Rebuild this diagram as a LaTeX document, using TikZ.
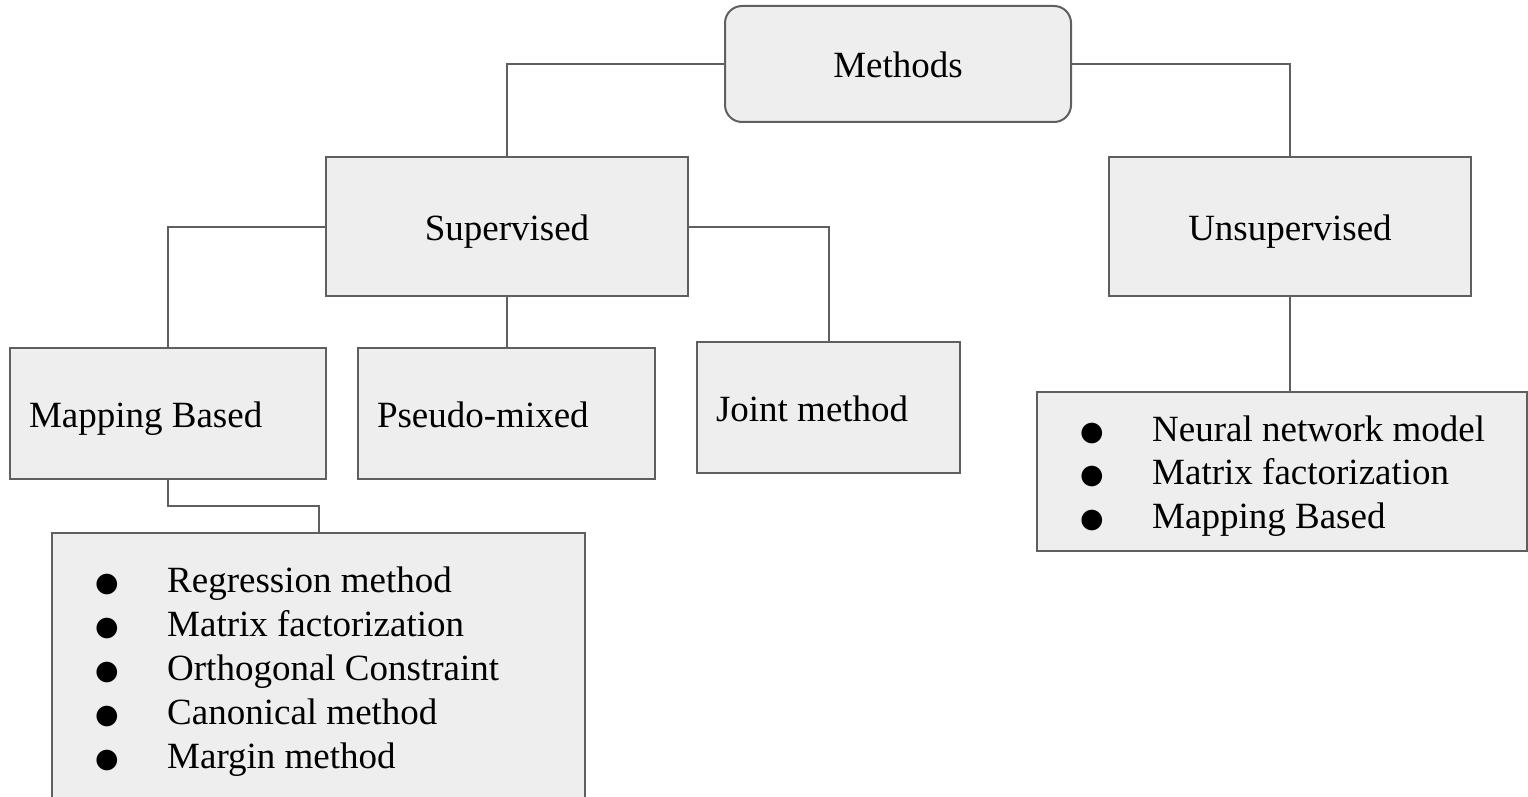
\documentclass[tikz,border=0pt]{standalone}
\usepackage{fontspec}
\setmainfont{Liberation Serif}
\newfontfamily\bulletfont{DejaVu Sans}
\usetikzlibrary{calc}
\definecolor{boxfill}{HTML}{EEEEEE}
\definecolor{edgecol}{HTML}{5F5F5F}
\begin{document}
\begin{tikzpicture}[x=1pt,y=-1pt,
  box/.style={draw=edgecol, fill=boxfill, line width=2pt, inner sep=0pt,
    text height=27pt, text depth=0pt, font=\fontsize{37}{44}\selectfont},
  lbox/.style={box, inner xsep=19pt},
  panel/.style={draw=edgecol, fill=boxfill, line width=2pt, inner sep=0pt},
  conn/.style={draw=edgecol, line width=2pt},
  item/.style={anchor=base west, inner sep=0pt, font=\fontsize{37}{44}\selectfont},
  dot/.style={anchor=base, inner sep=0pt, text height=14pt, text depth=0pt, font=\bulletfont\fontsize{27}{32}\selectfont}]
\useasboundingbox (0,0) rectangle (1528,797);
\clip (0,0) rectangle (1528,797);
% boxes
\node[box, rounded corners=17pt, minimum width=346pt, minimum height=116pt] (methods) at (898,64) {Methods};
\node[box, minimum width=362pt, minimum height=139pt] (sup) at (507,226.5) {Supervised};
\node[box, minimum width=362pt, minimum height=139pt] (unsup) at (1290,226.5) {Unsupervised};
\node[lbox, minimum width=316pt, minimum height=131pt] (mapb) at (168,413.5) {\makebox[278pt][l]{Mapping Based}};
\node[lbox, minimum width=297pt, minimum height=131pt] (pseudo) at (506.5,413.5) {\makebox[259pt][l]{Pseudo-mixed}};
\node[lbox, minimum width=263pt, minimum height=131pt] (joint) at (828.5,407.5) {\makebox[225pt][l]{Joint method}};
\node[panel, minimum width=490pt, minimum height=159pt] (ulist) at (1282,471.5) {};
\node[panel, minimum width=533pt, minimum height=300pt] (mlist) at (318.5,683) {};
% connectors
\draw[conn] (methods.west) -| (sup.north);
\draw[conn] (methods.east) -| (unsup.north);
\draw[conn] (sup.west) -| (mapb.north);
\draw[conn] (sup.south) -- (sup.south |- pseudo.north);
\draw[conn] (sup.east) -| (joint.north);
\draw[conn] (unsup.south) -- (unsup.south |- ulist.north);
\draw[conn] (mapb.south) -- ++(0,26) -| (mlist.north);
% list items
\foreach \t [count=\i] in {Regression method, Matrix factorization, Orthogonal Constraint, Canonical method, Margin method} {
  \node[item] (mi\i) at (167,{592+44*(\i-1)}) {\t};
  \node[dot] (md\i) at (107,{591+44*(\i-1)}) {●};
}
\foreach \t [count=\i] in {Neural network model, Matrix factorization, Mapping Based} {
  \node[item] (ui\i) at (1152,{441+43.5*(\i-1)}) {\t};
  \node[dot] (ud\i) at (1092,{440+43.5*(\i-1)}) {●};
}
\end{tikzpicture}
\end{document}
